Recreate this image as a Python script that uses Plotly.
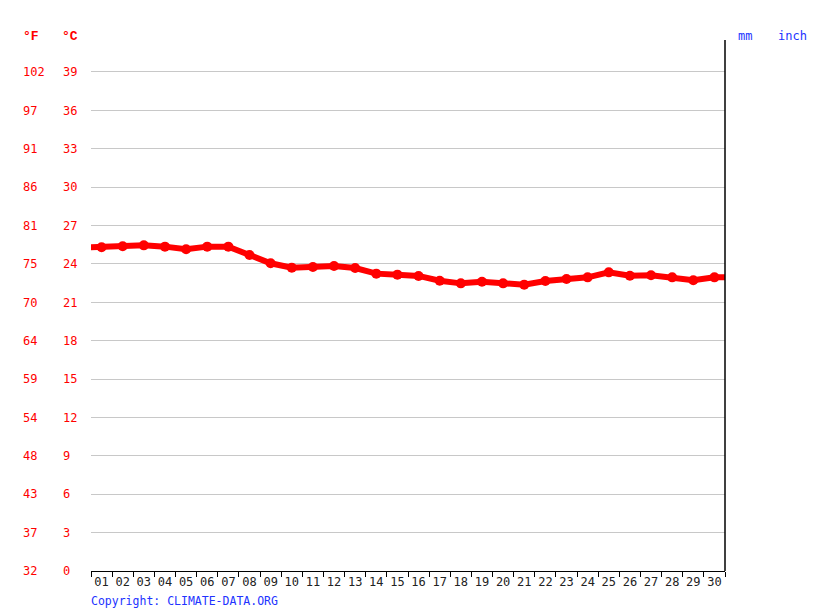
import plotly.graph_objects as go

# daily mean temperature (°C), days 01..30
dias = list(range(1, 31))
temp_c = [25.30, 25.38, 25.45, 25.35, 25.14, 25.35, 25.35, 24.70, 24.05, 23.71,
          23.76, 23.84, 23.68, 23.24, 23.16, 23.06, 22.69, 22.48, 22.61, 22.48,
          22.38, 22.67, 22.82, 22.95, 23.34, 23.08, 23.11, 22.95, 22.72, 22.95]
# neighbouring days (last day before / first day after), line only
dia_antes, temp_antes = 0, 25.28
dia_depois, temp_depois = 31, 22.98

ticks_c = [0, 3, 6, 9, 12, 15, 18, 21, 24, 27, 30, 33, 36, 39]
labels_c = [str(v) for v in ticks_c]
labels_f = ['32', '37', '43', '48', '54', '59', '64', '70', '75', '81', '86', '91', '97', '102']

# the page puts the figure 8px from the top-left corner
OFF = 8
W, H = 815 - OFF, 611 - OFF

def px(x):
    return (x - OFF) / W

x0, x1 = px(91), px(725)
y_max = 41.5
vermelho = '#ff0000'
azul = '#2233ff'
fonte = 'DejaVu Sans Mono'

fig = go.Figure()
fig.add_trace(go.Scatter(
    x=[dia_antes] + dias + [dia_depois],
    y=[temp_antes] + temp_c + [temp_depois],
    mode='lines', line=dict(color=vermelho, width=6), hoverinfo='skip'))
fig.add_trace(go.Scatter(
    x=dias, y=temp_c, mode='markers',
    marker=dict(color=vermelho, size=10)))
# invisible copy for the °F axis
fig.add_trace(go.Scatter(x=dias, y=temp_c, yaxis='y2', mode='lines',
                         line=dict(width=0), opacity=0, hoverinfo='skip'))

fig.update_layout(
    width=W, height=H, showlegend=False,
    paper_bgcolor='white', plot_bgcolor='white',
    margin=dict(l=0, r=0, t=40 - OFF, b=40),
    font=dict(family=fonte, size=12),
    xaxis=dict(domain=[x0, x1], range=[0.5, 30.5],
               tickmode='linear', tick0=1, dtick=1, tickformat='02d',
               ticks='', showgrid=False, zeroline=False,
               showline=True, linecolor='black', linewidth=1,
               tickfont=dict(color='#222222', size=12),
               minor=dict(tickmode='linear', tick0=0.5, dtick=1,
                          ticks='outside', ticklen=5, tickcolor='black',
                          showgrid=False)),
    yaxis=dict(range=[0, y_max], anchor='free', position=px(62), side='right',
               tickmode='array', tickvals=ticks_c, ticktext=labels_c,
               ticks='', showgrid=True, gridcolor='#c8c8c8', gridwidth=1,
               zeroline=False, showline=False,
               tickfont=dict(color=vermelho, size=12)),
    yaxis2=dict(range=[0, y_max], overlaying='y', anchor='free',
                position=px(22), side='right',
                tickmode='array', tickvals=ticks_c, ticktext=labels_f,
                ticks='', showgrid=False, zeroline=False, showline=False,
                tickfont=dict(color=vermelho, size=12)),
)

fig.add_shape(type='line', xref='paper', yref='paper',
              x0=x1, x1=x1, y0=0, y1=1, line=dict(color='black', width=1.5))

def rotulo(texto, x, y, cor, anchor='center', familia=fonte, tam=12):
    fig.add_annotation(text=texto, xref='paper', yref='paper', x=x, y=y,
                       xanchor=anchor, yanchor='middle', showarrow=False,
                       font=dict(family=familia, size=tam, color=cor))

rotulo('<b>°F</b>', px(31), 1.0075, vermelho, familia='Liberation Mono', tam=13)
rotulo('<b>°C</b>', px(70), 1.0075, vermelho, familia='Liberation Mono', tam=13)
rotulo('mm', px(745), 1.0075, azul)
rotulo('inch', px(792), 1.0075, azul)
rotulo('Copyright: CLIMATE-DATA.ORG', px(89), -0.0565, azul, anchor='left', tam=11.5)

fig.write_html('out.html')
